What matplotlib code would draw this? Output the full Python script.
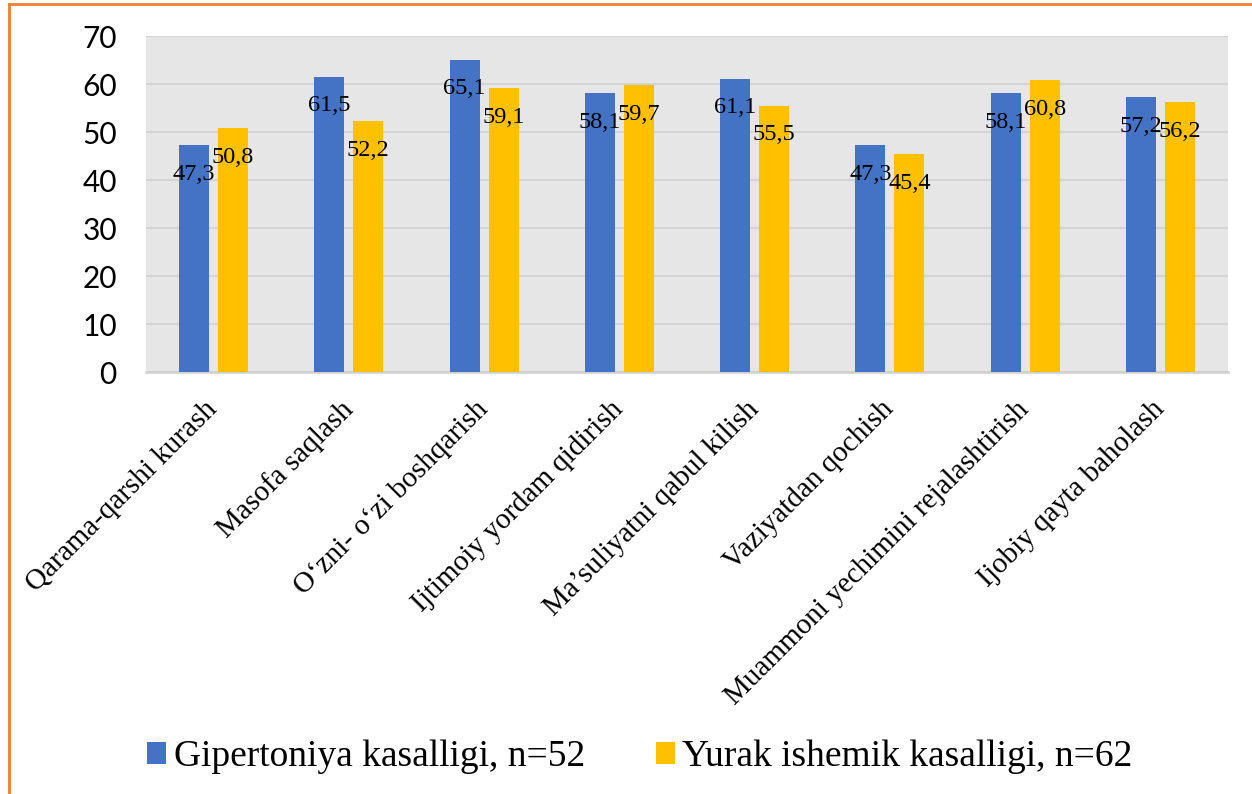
import matplotlib
matplotlib.use("Agg")
import matplotlib.pyplot as plt
import numpy as np
from matplotlib.lines import Line2D
from matplotlib.font_manager import FontProperties

# ── data ────────────────────────────────────────────────────────────────────
categories = [
    "Qarama-qarshi kurash",
    "Masofa saqlash",
    "O\u2018zni- o\u2018zi boshqarish",
    "Ijtimoiy yordam qidirish",
    "Ma\u2019suliyatni qabul kilish",
    "Vaziyatdan qochish",
    "Muammoni yechimini rejalashtirish",
    "Ijobiy qayta baholash",
]
gipertoniya = [47.3, 61.5, 65.1, 58.1, 61.1, 47.3, 58.1, 57.2]
yurak = [50.8, 52.2, 59.1, 59.7, 55.5, 45.4, 60.8, 56.2]
series_names = ["Gipertoniya kasalligi, n=52", "Yurak ishemik kasalligi, n=62"]
yticks = [0, 10, 20, 30, 40, 50, 60, 70]

BLUE = "#4472C4"
GOLD = "#FFC000"
SERIF = "Liberation Serif"

fig = plt.figure(figsize=(12.52, 7.94), dpi=100)
ax = fig.add_axes([146 / 1252, 1 - 372 / 794, (1228 - 146) / 1252, (372 - 36) / 794])
ax.set_facecolor("#e6e6e6")

x = np.arange(len(categories))
off, w = 0.144, 0.222
b1 = ax.bar(x - off, gipertoniya, w, color=BLUE, label=series_names[0], zorder=3)
b2 = ax.bar(x + off, yurak, w, color=GOLD, label=series_names[1], zorder=3)

# value labels sit just inside the bar top, in the same serif as the report
for bars, vals in [(b1, gipertoniya), (b2, yurak)]:
    for rect, v in zip(bars, vals):
        ax.annotate(f"{v:.1f}".replace(".", ","),
                    (rect.get_x() + rect.get_width() / 2, v),
                    xytext=(0, -21), textcoords="offset points",
                    ha="center", va="center", fontsize=17.5,
                    family=SERIF, color="black", zorder=5)

ax.set_xlim(-0.5, len(categories) - 0.5)
ax.set_ylim(0, 70)
ax.set_yticks(yticks)
ax.set_yticklabels([str(t) for t in yticks], fontsize=21.5, family="Lato")
ax.tick_params(axis="y", length=0, pad=21)
ax.tick_params(axis="x", length=0, pad=24)
ax.set_xticks(x)
ax.set_xticklabels(categories, rotation=45, ha="right", va="center",
                   rotation_mode="anchor", fontsize=21, family=SERIF)
ax.grid(axis="y", color="#d4d4d4", lw=1.5, zorder=0)
for s in ["top", "left", "right"]:
    ax.spines[s].set_visible(False)
ax.spines["bottom"].set_color("#d0d0d0")
ax.spines["bottom"].set_linewidth(1.8)

fig.legend(handles=[b1, b2], loc="center", bbox_to_anchor=(640 / 1252, 1 - 757 / 794),
           ncol=2, frameon=False, prop=FontProperties(family=SERIF, size=27),
           handlelength=0.5, handleheight=0.5, handletextpad=0.2, columnspacing=1.9)

# orange page frame
fig.add_artist(Line2D([9 / 1252, 9 / 1252], [0, 1 - 4 / 794], color="#ED7D31", lw=2,
                      transform=fig.transFigure))
fig.add_artist(Line2D([9 / 1252, 1], [1 - 4 / 794, 1 - 4 / 794], color="#ED7D31", lw=2,
                      transform=fig.transFigure))

fig.savefig("out.png", dpi=100)
